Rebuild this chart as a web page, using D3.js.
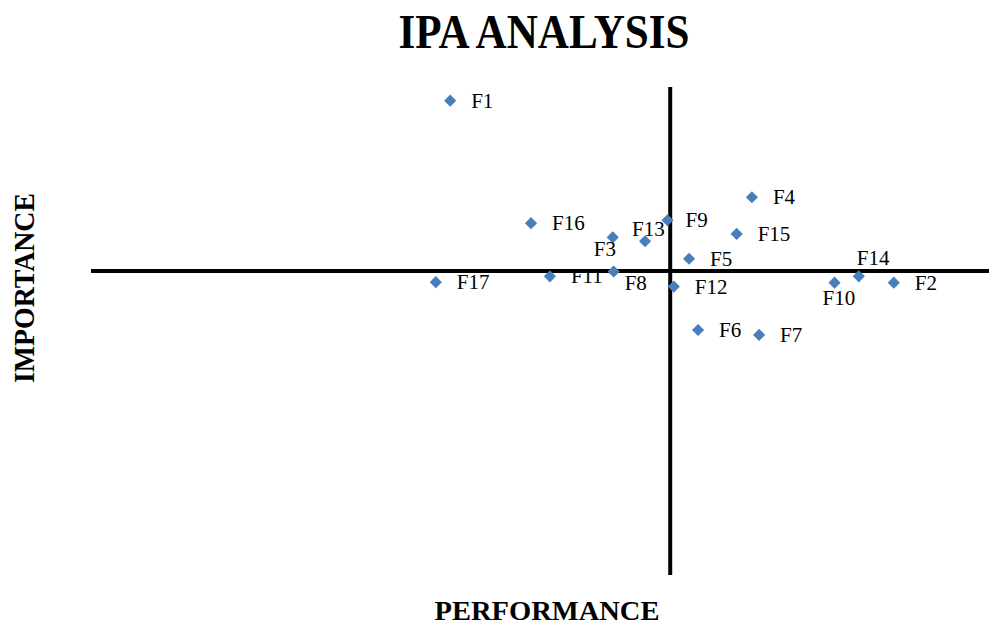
<!DOCTYPE html>
<html>
<head>
<meta charset="utf-8">
<script src="https://cdn.jsdelivr.net/npm/d3@7"></script>
<style>
  html, body { margin: 0; padding: 0; background: #fff; }
  svg { display: block; }
</style>
</head>
<body>
<svg id="chart" width="989" height="626"></svg>
<script>
// ---- data ----
const factors = ["F1","F2","F3","F4","F5","F6","F7","F8","F9","F10","F11","F12","F13","F14","F15","F16","F17"];
const performance = [3.400,3.894,3.581,3.736,3.666,3.676,3.744,3.582,3.642,3.828,3.511,3.649,3.617,3.855,3.719,3.490,3.384];
const importance  = [3.972,3.599,3.692,3.774,3.648,3.502,3.492,3.622,3.727,3.599,3.612,3.591,3.684,3.612,3.699,3.721,3.600];
const performanceMean = 3.645;
const importanceMean = 3.623;
const xDomain = [3.0, 4.0];
const yDomain = [3.0, 4.0];
const titleText = "IPA ANALYSIS";
const xTitle = "PERFORMANCE";
const yTitle = "IMPORTANCE";

// ---- layout / style ----
const svg = d3.select("#chart");
const plot = { left: 91, right: 989, top: 87, bottom: 575 };
const x = d3.scaleLinear().domain(xDomain).range([plot.left, plot.right]);
const y = d3.scaleLinear().domain(yDomain).range([plot.bottom, plot.top]);
const blue = "#4a7ebb";
const serif = "'Liberation Serif', 'DejaVu Serif', serif";

// label offsets (style): default right of the marker
const labelOffset = {
  F3:  [-19, 19],
  F8:  [11, 19],
  F10: [-12, 22],
  F13: [-13, -5],
  F14: [-2, -11],
  F9:  [18, 7]
};
const defaultOffset = [21, 7];

const data = factors.map((f, i) => ({ name: f, p: performance[i], imp: importance[i] }));

// axes crossing at means
svg.append("line")
  .attr("x1", x(xDomain[0])).attr("x2", x(xDomain[1]))
  .attr("y1", y(importanceMean)).attr("y2", y(importanceMean))
  .attr("stroke", "#000").attr("stroke-width", 4);
svg.append("line")
  .attr("x1", x(performanceMean)).attr("x2", x(performanceMean))
  .attr("y1", y(yDomain[0])).attr("y2", y(yDomain[1]))
  .attr("stroke", "#000").attr("stroke-width", 4);

// markers (diamonds)
svg.append("g").selectAll("path").data(data).join("path")
  .attr("d", d3.symbol().type(d3.symbolSquare).size(74))
  .attr("transform", d => `translate(${x(d.p)},${y(d.imp)}) rotate(45)`)
  .attr("fill", blue);

// labels
svg.append("g").selectAll("text").data(data).join("text")
  .attr("x", d => x(d.p) + (labelOffset[d.name] || defaultOffset)[0])
  .attr("y", d => y(d.imp) + (labelOffset[d.name] || defaultOffset)[1])
  .attr("font-family", serif)
  .attr("font-size", 21)
  .attr("fill", "#000")
  .text(d => d.name);

// titles
svg.append("text")
  .attr("x", 544).attr("y", 48)
  .attr("text-anchor", "middle")
  .attr("font-family", serif).attr("font-weight", "bold").attr("font-size", 48)
  .attr("textLength", 291).attr("lengthAdjust", "spacingAndGlyphs")
  .text(titleText);

svg.append("text")
  .attr("x", 547).attr("y", 620)
  .attr("text-anchor", "middle")
  .attr("font-family", serif).attr("font-weight", "bold").attr("font-size", 28)
  .attr("textLength", 225).attr("lengthAdjust", "spacingAndGlyphs")
  .text(xTitle);

svg.append("text")
  .attr("transform", "translate(33.5,288) rotate(-90)")
  .attr("text-anchor", "middle")
  .attr("font-family", serif).attr("font-weight", "bold").attr("font-size", 30)
  .attr("textLength", 190).attr("lengthAdjust", "spacingAndGlyphs")
  .text(yTitle);
</script>
</body>
</html>
